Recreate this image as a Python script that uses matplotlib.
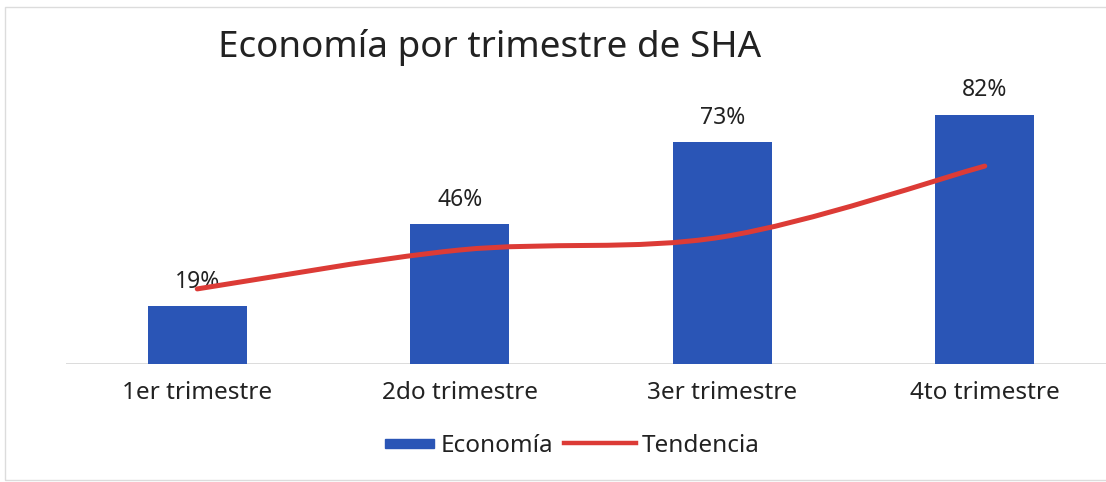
import numpy as np
import matplotlib.pyplot as plt
from matplotlib.path import Path
from matplotlib.patches import PathPatch, Rectangle
from matplotlib.lines import Line2D
from matplotlib.legend_handler import HandlerPatch

plt.rcParams['font.family'] = ['Noto Sans', 'DejaVu Sans']

categories = ['1er trimestre', '2do trimestre', '3er trimestre', '4to trimestre']
economia = [19, 46, 73, 82]
tendencia = [24.7, 37.5, 41.8, 65.1]

blue = '#2A55B6'
red = '#DC3B36'
text_col = '#222222'

W, H = 1106, 482
fig = plt.figure(figsize=(W / 100, H / 100), dpi=100)
ax = fig.add_axes([66 / W, 118 / H, 1050 / W, 304 / H])

x = np.arange(len(categories))
bars = ax.bar(x, economia, width=0.377, color=blue, zorder=2)
ax.bar_label(bars, labels=[f'{v}%' for v in economia], padding=9,
             fontsize=16.5, color=text_col)

# smoothed trend line (Catmull-Rom -> cubic bezier)
pts = np.column_stack([x, tendencia]).astype(float)
verts = [pts[0]]
codes = [Path.MOVETO]
for i in range(len(pts) - 1):
    p0 = pts[i - 1] if i > 0 else pts[i]
    p1, p2 = pts[i], pts[i + 1]
    p3 = pts[i + 2] if i + 2 < len(pts) else pts[i + 1]
    c1 = p1 + (p2 - p0) / 6
    c2 = p2 - (p3 - p1) / 6
    verts += [c1, c2, p2]
    codes += [Path.CURVE4] * 3
ax.add_patch(PathPatch(Path(verts, codes), facecolor='none', edgecolor=red,
                       lw=3.6, capstyle='round', joinstyle='round', zorder=3))

ax.set_xlim(-0.5, 3.5)
ax.set_ylim(0, 100)
ax.axhline(0, color='#d5d5d5', lw=1.2, zorder=1)
for s in ax.spines.values():
    s.set_visible(False)
ax.set_yticks([])
ax.set_xticks(x)
ax.set_xticklabels(categories, fontsize=17.5, color=text_col)
ax.tick_params(axis='x', length=0, pad=12)

fig.text(490 / W, 1 - 48 / H, 'Economía por trimestre de SHA', fontsize=26.5,
         color=text_col, ha='center', va='center')


# blue legend key is shorter than the line key, right-aligned to its text
def short_box(legend, orig_handle, xdescent, ydescent, width, height, fontsize):
    w = width * 0.69
    h = 9 * 72 / 100
    return Rectangle((width - w - xdescent, (height - h) / 2 - ydescent), w, h)


handles = [Rectangle((0, 0), 1, 1, color=blue),
           Line2D([], [], color=red, lw=3.2)]
fig.legend(handles, ['Economía', 'Tendencia'], loc='center',
           bbox_to_anchor=(561 / W, 1 - 446 / H), ncol=2, frameon=False,
           fontsize=17.5, handlelength=2.95, handletextpad=0.25,
           columnspacing=0.45, labelcolor=text_col,
           handler_map={Rectangle: HandlerPatch(patch_func=short_box)})

fig.patches.append(Rectangle((5 / W, 0.005), 1.2, 1 - 7 / H - 0.005,
                             transform=fig.transFigure, fill=False,
                             edgecolor='#dcdcdc', lw=1))

fig.savefig('out.png', dpi=100)
